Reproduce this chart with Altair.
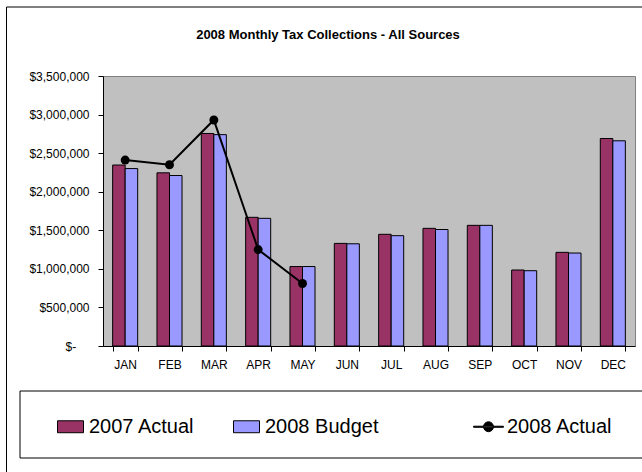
import altair as alt
import pandas as pd

FONT = "Liberation Sans"

months = ["JAN", "FEB", "MAR", "APR", "MAY", "JUN", "JUL", "AUG", "SEP", "OCT", "NOV", "DEC"]
actual_2007 = [2346000, 2245000, 2755000, 1668000, 1030000, 1330000, 1448000, 1525000, 1564000, 985000, 1214000, 2690000]
budget_2008 = [2300000, 2210000, 2740000, 1655000, 1030000, 1325000, 1430000, 1510000, 1564000, 976000, 1205000, 2660000]
actual_2008_months = ["JAN", "FEB", "MAR", "APR", "MAY"]
actual_2008 = [2410000, 2350000, 2930000, 1250000, 810000]
series = ["2007 Actual", "2008 Budget", "2008 Actual"]
colors = ["#993366", "#9999FF", "#000000"]
y_ticks = [0, 500000, 1000000, 1500000, 2000000, 2500000, 3000000, 3500000]
title_text = "2008 Monthly Tax Collections - All Sources"

bars_df = pd.DataFrame(
    [{"month": m, "series": series[0], "value": v} for m, v in zip(months, actual_2007)]
    + [{"month": m, "series": series[1], "value": v} for m, v in zip(months, budget_2008)]
)
line_df = pd.DataFrame({"month": actual_2008_months, "value": actual_2008})
# rows that only feed the legend; their values lie outside the clipped plot
legend_df = pd.DataFrame({"month": [months[0]] * 3, "series": series, "value": [-1e8] * 3})
title_df = pd.DataFrame({"title": [title_text]})
one_row = pd.DataFrame({"k": [0]})

NB = "\u00a0"
ZW = "\u200b"

x_axis = alt.Axis(
    title=None, labelAngle=0, tickBand="extent", tickSize=5, labelPadding=8,
    domainColor="black", tickColor="black", labelColor="black",
    labelFontSize=12, labelFont=FONT,
)
x_scale = alt.Scale(paddingInner=0.435, paddingOuter=0.2175)
y_axis = alt.Axis(
    title=None, values=y_ticks, grid=False, tickSize=5, labelPadding=9,
    labelOverlap=False, labelFlush=False,
    domainColor="black", tickColor="black", labelColor="black",
    labelFontSize=12, labelFont=FONT,
    labelExpr="datum.value == 0 ? '$-" + NB * 4 + ZW + "' : '$' + format(datum.value, ',')",
)
y_scale = alt.Scale(domain=[0, 3500000], nice=False)


def xe():
    return alt.X("month:N", sort=months, scale=x_scale, axis=x_axis)


def ye():
    return alt.Y("value:Q", scale=y_scale, axis=y_axis)


rect_path = "M-1,-0.46H1V0.46H-1Z"
line_path = ("M-1.15,-0.04H1.15V0.04H-1.15Z"
             "M-0.38,0A0.38,0.38,0,1,0,0.38,0A0.38,0.38,0,1,0,-0.38,0Z")

legend = alt.Legend(
    title=None, orient="none", legendX=-46, legendY=337, direction="horizontal",
    symbolSize=676, labelFontSize=20, labelFont=FONT, labelColor="black",
    labelOffset=5, columnPadding=36, padding=0, labelLimit=400,
    symbolStrokeWidth=1, symbolOpacity=1,
    labelExpr="datum.value == '2008 Budget' ? '2008 Budget" + NB * 10 + ZW + "' : datum.label",
)

color_scale = alt.Scale(domain=series, range=colors)

outer_frame = alt.Chart(one_row).mark_rect(fill="transparent", stroke="black", strokeWidth=1).encode(
    x=alt.value(-96.5), x2=alt.value(700), y=alt.value(-69), y2=alt.value(500)
)
legend_box = alt.Chart(one_row).mark_rect(fill="white", stroke="black", strokeWidth=1).encode(
    x=alt.value(-83), x2=alt.value(700), y=alt.value(315), y2=alt.value(382)
)
title = alt.Chart(title_df).mark_text(
    font=FONT, fontSize=13, fontWeight="bold", color="black", align="center", baseline="alphabetic"
).encode(text="title:N", x=alt.value(225), y=alt.value(-37))

bars = alt.Chart(bars_df).mark_bar(stroke="black", strokeWidth=1, opacity=1).encode(
    x=xe(),
    xOffset=alt.XOffset("series:N", sort=series[:2], scale=alt.Scale(paddingInner=0, paddingOuter=0)),
    y=ye(),
    color=alt.Color("series:N", scale=color_scale, legend=legend),
)

legend_feed = alt.Chart(legend_df).mark_point(
    filled=True, clip=True, size=676, opacity=1, strokeWidth=1
).encode(
    x=xe(),
    y=ye(),
    color=alt.Color("series:N", scale=color_scale, legend=legend),
    stroke=alt.Stroke("series:N", scale=alt.Scale(domain=series, range=["black", "black", "black"]),
                      legend=legend),
    shape=alt.Shape("series:N", scale=alt.Scale(domain=series, range=[rect_path, rect_path, line_path]),
                    legend=legend),
)

line = alt.Chart(line_df).mark_line(color="black", strokeWidth=2).encode(x=xe(), y=ye())
points = alt.Chart(line_df).mark_point(filled=True, color="black", size=80, opacity=1).encode(x=xe(), y=ye())

chart = (
    alt.layer(outer_frame, legend_box, title, bars, legend_feed, line, points)
    .properties(
        width=532,
        height=270,
        autosize=alt.AutoSizeParams(type="none"),
        padding={"left": 103, "top": 76, "right": 7, "bottom": 126},
        background="white",
    )
    .configure_view(fill="#C0C0C0", stroke="#808080", strokeWidth=1)
)

chart.save("out.html", embed_options={"renderer": "svg", "actions": False})
